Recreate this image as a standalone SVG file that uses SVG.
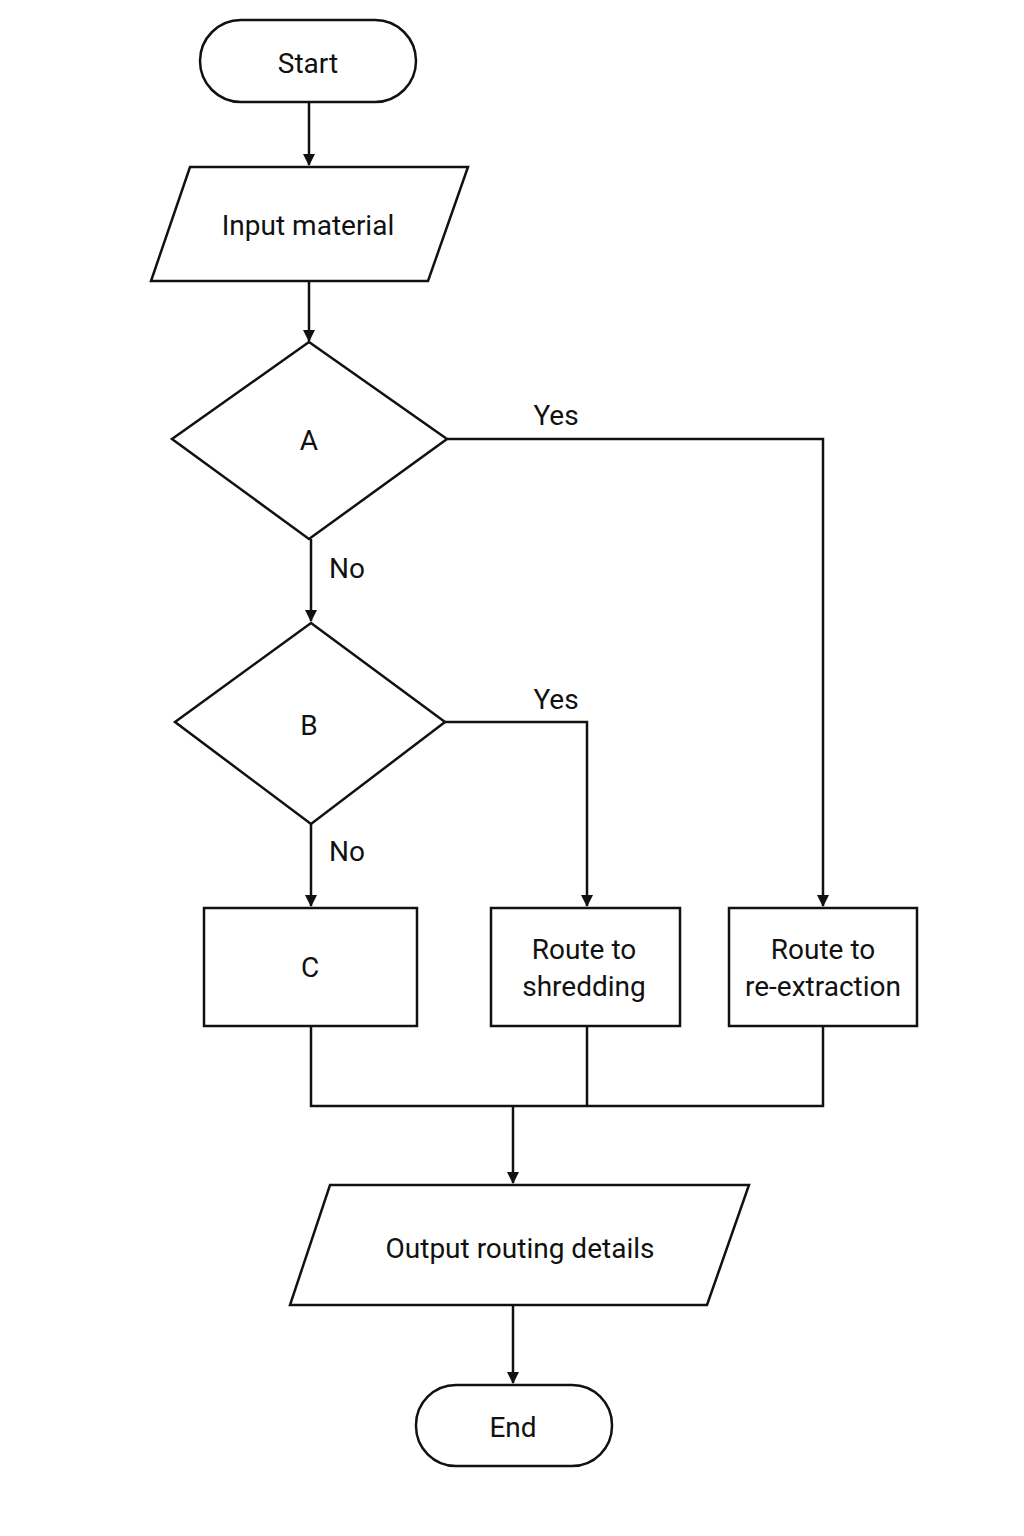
<svg xmlns="http://www.w3.org/2000/svg" width="1024" height="1536" viewBox="0 0 1024 1536">
<style>
.s{fill:#fff;stroke:#111;stroke-width:2.5}
.c{fill:none;stroke:#111;stroke-width:2.5}
text{font-family:Roboto,"Liberation Sans",sans-serif;font-size:28px;fill:#111;text-anchor:middle;dominant-baseline:central}
</style>
<defs><marker id="ah" markerWidth="12" markerHeight="12" refX="11" refY="6" orient="auto" markerUnits="userSpaceOnUse"><path d="M0,0 L12,6 L0,12 z" fill="#111"/></marker></defs>
<rect width="1024" height="1536" fill="#fff"/>
<g id="connectors">
<path class="c" d="M309,102 V165" marker-end="url(#ah)"/>
<path class="c" d="M309,281 V341" marker-end="url(#ah)"/>
<path class="c" d="M447,439 H823 V906" marker-end="url(#ah)"/>
<path class="c" d="M311,539 V621" marker-end="url(#ah)"/>
<path class="c" d="M445,722 H587 V906" marker-end="url(#ah)"/>
<path class="c" d="M311,824 V906" marker-end="url(#ah)"/>
<path class="c" d="M311,1026 V1106 H823 V1026 M587,1026 V1106"/>
<path class="c" d="M513,1106 V1183" marker-end="url(#ah)"/>
<path class="c" d="M513,1305 V1383" marker-end="url(#ah)"/>
<text x="556" y="415">Yes</text>
<text x="347" y="568">No</text>
<text x="556" y="699">Yes</text>
<text x="347" y="851">No</text>
</g>
<g id="start"><rect class="s" x="200" y="20" width="216" height="82" rx="41"/><text x="308" y="63">Start</text></g>
<g id="input"><polygon class="s" points="190,167 468,167 428,281 151,281"/><text x="308" y="225">Input material</text></g>
<g id="decA"><polygon class="s" points="309,342 447,439 309,539 172,439"/><text x="309" y="440">A</text></g>
<g id="decB"><polygon class="s" points="311,623 445,722 311,824 175,722"/><text x="309" y="725">B</text></g>
<g id="boxC"><rect class="s" x="204" y="908" width="213" height="118"/><text x="310" y="967">C</text></g>
<g id="shred"><rect class="s" x="491" y="908" width="189" height="118"/><text x="584" y="949">Route to</text><text x="584" y="986">shredding</text></g>
<g id="reext"><rect class="s" x="729" y="908" width="188" height="118"/><text x="823" y="949">Route to</text><text x="823" y="986">re-extraction</text></g>
<g id="output"><polygon class="s" points="330,1185 749,1185 707,1305 290,1305"/><text x="520" y="1248">Output routing details</text></g>
<g id="end"><rect class="s" x="416" y="1385" width="196" height="81" rx="40"/><text x="513" y="1427">End</text></g>
</svg>
